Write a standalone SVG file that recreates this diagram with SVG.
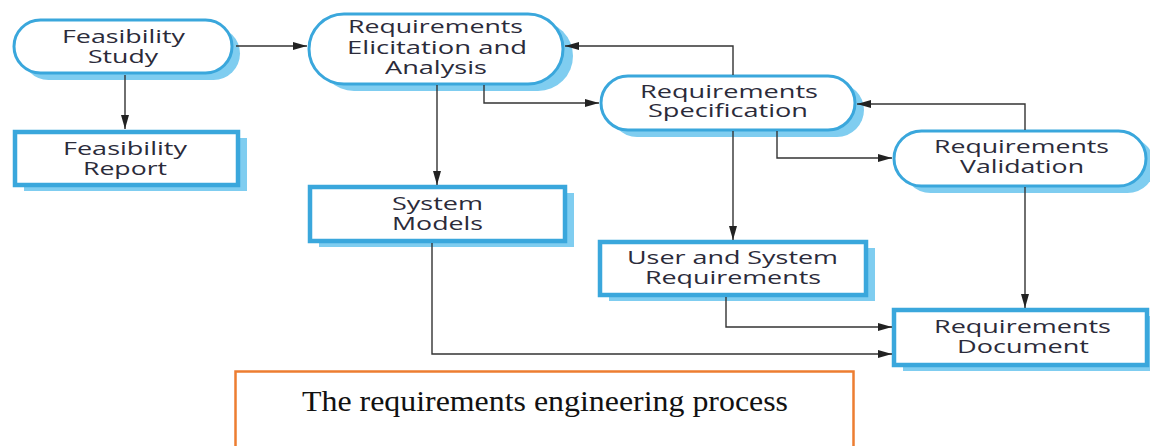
<svg xmlns="http://www.w3.org/2000/svg" width="1150" height="446" viewBox="0 0 1150 446">
<defs>
<marker id="ah" markerUnits="userSpaceOnUse" markerWidth="14" markerHeight="8" refX="14" refY="4" orient="auto">
<path d="M0,0 L14,4 L0,8 Z" fill="#222"/>
</marker>
<style>
.sh{fill:#7fcdf0;stroke:none}
.pill{fill:#fff;stroke:#3aa7dc;stroke-width:3}
.box{fill:#fff;stroke:#3aa7dc;stroke-width:4.5}
.t{font-family:"Open Sans","DejaVu Sans",sans-serif;font-size:18px;font-weight:500;fill:#2b2b3a}
.c{fill:none;stroke:#333;stroke-width:1.4}
.cap{font-family:"Liberation Serif","Times New Roman",serif;font-size:30px;fill:#111}
</style>
</defs>
<rect width="1150" height="446" fill="#fff"/>
<g id="feasibility-study">
<rect class="sh" x="22" y="27" width="218" height="53" rx="26.5"/>
<rect class="pill" x="14" y="20" width="218" height="53" rx="26.5"/>
<text class="t" x="62" y="43" textLength="123" lengthAdjust="spacingAndGlyphs">Feasibility</text>
<text class="t" x="88" y="63" textLength="70" lengthAdjust="spacingAndGlyphs">Study</text>
</g>
<g id="feasibility-report">
<rect class="sh" x="24" y="138" width="223" height="53"/>
<rect class="box" x="15" y="132" width="223" height="53"/>
<text class="t" x="63" y="155" textLength="124" lengthAdjust="spacingAndGlyphs">Feasibility</text>
<text class="t" x="83" y="175" textLength="84" lengthAdjust="spacingAndGlyphs">Report</text>
</g>
<g id="elicitation">
<rect class="sh" x="319" y="21" width="254" height="70" rx="35"/>
<rect class="pill" x="309" y="14" width="254" height="70" rx="35"/>
<text class="t" x="348" y="33" textLength="175" lengthAdjust="spacingAndGlyphs">Requirements</text>
<text class="t" x="347" y="54" textLength="180" lengthAdjust="spacingAndGlyphs">Elicitation and</text>
<text class="t" x="385" y="74" textLength="102" lengthAdjust="spacingAndGlyphs">Analysis</text>
</g>
<g id="system-models">
<rect class="sh" x="319" y="193" width="255" height="54"/>
<rect class="box" x="310" y="187" width="255" height="54"/>
<text class="t" x="392" y="210" textLength="91" lengthAdjust="spacingAndGlyphs">System</text>
<text class="t" x="392" y="230" textLength="91" lengthAdjust="spacingAndGlyphs">Models</text>
</g>
<g id="specification">
<rect class="sh" x="610" y="83" width="254" height="54" rx="27"/>
<rect class="pill" x="601" y="76" width="254" height="54" rx="27"/>
<text class="t" x="640" y="98" textLength="178" lengthAdjust="spacingAndGlyphs">Requirements</text>
<text class="t" x="648" y="117" textLength="160" lengthAdjust="spacingAndGlyphs">Specification</text>
</g>
<g id="user-system-req">
<rect class="sh" x="609" y="248" width="266" height="53"/>
<rect class="box" x="600" y="242" width="266" height="53"/>
<text class="t" x="627" y="264" textLength="211" lengthAdjust="spacingAndGlyphs">User and System</text>
<text class="t" x="645" y="284" textLength="176" lengthAdjust="spacingAndGlyphs">Requirements</text>
</g>
<g id="validation">
<rect class="sh" x="903" y="138" width="252" height="55" rx="27.5"/>
<rect class="pill" x="894" y="131" width="252" height="55" rx="27.5"/>
<text class="t" x="934" y="153" textLength="175" lengthAdjust="spacingAndGlyphs">Requirements</text>
<text class="t" x="960" y="173" textLength="124" lengthAdjust="spacingAndGlyphs">Validation</text>
</g>
<g id="req-document">
<rect class="sh" x="903" y="316" width="253" height="55"/>
<rect class="box" x="894" y="310" width="253" height="55"/>
<text class="t" x="934" y="333" textLength="177" lengthAdjust="spacingAndGlyphs">Requirements</text>
<text class="t" x="957" y="353" textLength="132" lengthAdjust="spacingAndGlyphs">Document</text>
</g>
<g id="connectors">
<path class="c" d="M236,46 H307" marker-end="url(#ah)"/>
<path class="c" d="M125,75 V129" marker-end="url(#ah)"/>
<path class="c" d="M437,85 V185" marker-end="url(#ah)"/>
<path class="c" d="M484,85 V103 H599" marker-end="url(#ah)"/>
<path class="c" d="M733,75 V46 H565" marker-end="url(#ah)"/>
<path class="c" d="M733,131 V240" marker-end="url(#ah)"/>
<path class="c" d="M777,131 V158 H892" marker-end="url(#ah)"/>
<path class="c" d="M1025,130 V104 H857" marker-end="url(#ah)"/>
<path class="c" d="M1025,187 V308" marker-end="url(#ah)"/>
<path class="c" d="M726,297 V327 H892" marker-end="url(#ah)"/>
<path class="c" d="M432,243 V354 H892" marker-end="url(#ah)"/>
</g>
<g id="caption">
<rect x="235.5" y="371.5" width="618" height="90" fill="none" stroke="#ed7d31" stroke-width="2.5"/>
<text class="cap" x="302" y="411" textLength="486" lengthAdjust="spacingAndGlyphs">The requirements engineering process</text>
</g>
</svg>
